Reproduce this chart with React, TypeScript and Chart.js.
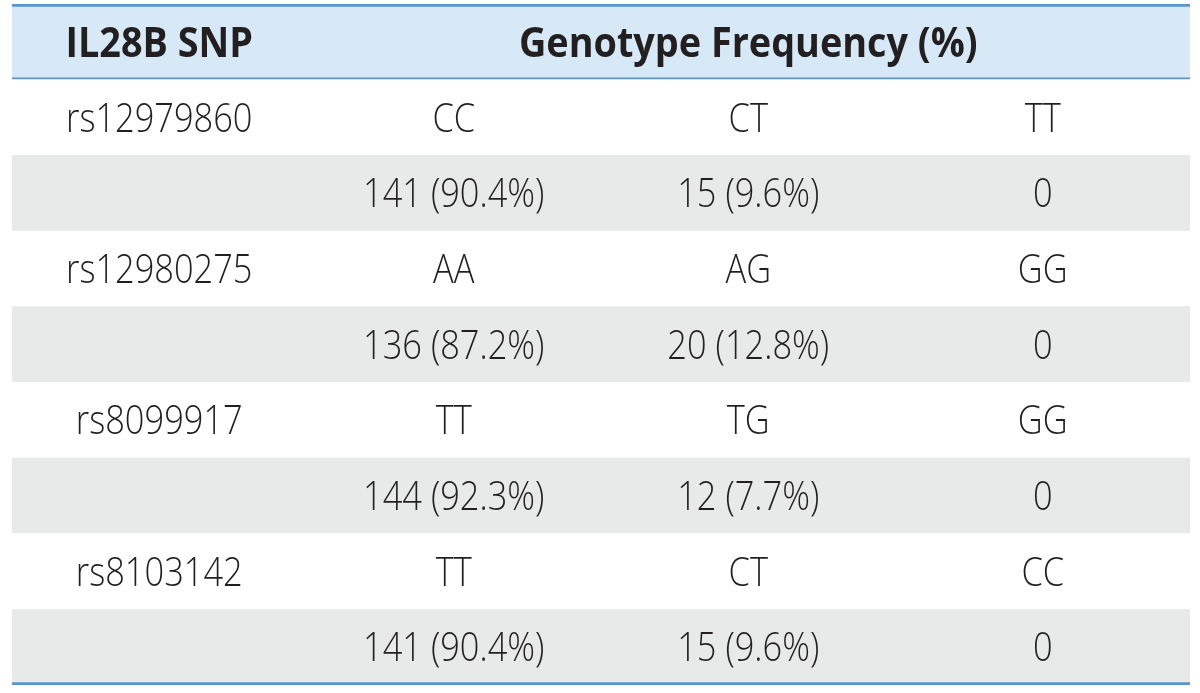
import React, { useEffect, useRef } from "react";
import { Chart, registerables } from "chart.js";

Chart.register(...registerables);

// ---- data ----
const headerLabels = ["IL28B SNP", "Genotype Frequency (%)"];
const snps = ["rs12979860", "rs12980275", "rs8099917", "rs8103142"];
const genotypes = [
  ["CC", "CT", "TT"],
  ["AA", "AG", "GG"],
  ["TT", "TG", "GG"],
  ["TT", "CT", "CC"],
];
const counts = [
  [141, 15, 0],
  [136, 20, 0],
  [144, 12, 0],
  [141, 15, 0],
];
const percents = [
  [90.4, 9.6, null],
  [87.2, 12.8, null],
  [92.3, 7.7, null],
  [90.4, 9.6, null],
];

// ---- style ----
const LINE = "#5b95cf";
const HEADER_BG = "#d7e8f6";
const GRAY_BG = "#e8e9e9";
const WHITE_BG = "#ffffff";
const TEXT = "#231f20";
const COLS = 4;

type Cell = { text: string; col: number; bold?: boolean };

function buildRows(): Cell[][] {
  const rows: Cell[][] = [];
  rows.push([
    { text: headerLabels[0], col: 0.5, bold: true },
    { text: headerLabels[1], col: 2.5, bold: true },
  ]);
  snps.forEach((snp, i) => {
    rows.push([
      { text: snp, col: 0.5 },
      ...genotypes[i].map((g, j) => ({ text: g, col: j + 1.5 })),
    ]);
    rows.push(
      counts[i].map((c, j) => ({
        text: percents[i][j] == null ? String(c) : `${c} (${percents[i][j]}%)`,
        col: j + 1.5,
      }))
    );
  });
  return rows;
}

export default function App() {
  const ref = useRef<HTMLCanvasElement | null>(null);

  useEffect(() => {
    if (!ref.current) return;
    const rows = buildRows();
    const labels = rows.map((_, i) => `row${i}`);
    const last = rows.length - 1;

    const bg = rows.map((_, i) => (i === 0 ? HEADER_BG : i % 2 === 1 ? WHITE_BG : GRAY_BG));
    const bw = rows.map((_, i) => ({
      top: i === 0 ? 3 : 0,
      bottom: i === 0 ? 2.5 : i === last ? 3 : 0,
      left: 0,
      right: 0,
    }));

    const textPlugin = {
      id: "cellText",
      afterDatasetsDraw(chart: any) {
        const { ctx, scales } = chart;
        const xs = scales.x;
        const ys = scales.y;
        rows.forEach((cells, r) => {
          const yc = ys.getPixelForValue(r);
          cells.forEach((cell) => {
            const size = cell.bold ? 42 : 40;
            const sx = cell.bold ? 0.9 : 0.86;
            ctx.save();
            ctx.font = `${cell.bold ? 700 : 300} ${size}px "Open Sans"`;
            ctx.fillStyle = TEXT;
            ctx.textAlign = "center";
            ctx.textBaseline = "alphabetic";
            ctx.translate(xs.getPixelForValue(cell.col), yc + 0.357 * size);
            ctx.scale(sx, 1);
            ctx.fillText(cell.text, 0, 0);
            ctx.restore();
          });
        });
      },
    };

    const chart = new Chart(ref.current, {
      type: "bar",
      data: {
        labels,
        datasets: [
          {
            data: rows.map(() => [0, COLS]) as any,
            backgroundColor: bg,
            borderColor: LINE,
            borderWidth: bw as any,
            borderSkipped: false,
            categoryPercentage: 1,
            barPercentage: 1,
          },
        ],
      },
      options: {
        indexAxis: "y",
        responsive: false,
        animation: false,
        devicePixelRatio: 1,
        layout: { padding: { left: 12, right: 10, top: 4, bottom: 8 } },
        scales: {
          x: { type: "linear", min: 0, max: COLS, display: false },
          y: { type: "category", display: false },
        },
        plugins: { legend: { display: false }, tooltip: { enabled: false } },
      },
      plugins: [textPlugin],
    });
    return () => chart.destroy();
  }, []);

  return (
    <div style={{ position: "absolute", left: 0, top: 0, width: 1200, height: 693, background: "#fff" }}>
      <canvas ref={ref} width={1200} height={693} />
    </div>
  );
}
